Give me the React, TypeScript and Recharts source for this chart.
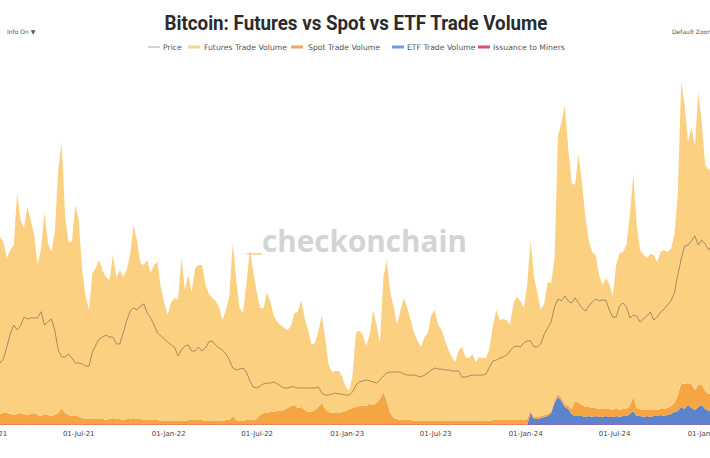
import { ComposedChart, Area, Line, XAxis, YAxis } from 'recharts';

// weekly samples, first one is 21-Jan-21
const START = Date.UTC(2021, 0, 21);
const WEEK = 7 * 24 * 3600 * 1000;
const N_WEEKS = 209;

// trade volume, $B per day
const futuresVolume = [
  88.5, 85.5, 77.5, 82, 85, 110.5, 96.5, 93, 104, 97,
  89, 75, 84, 101, 86, 82, 91, 121.5, 133, 99,
  86.5, 87, 105, 98.5, 74, 61.5, 54.5, 73, 75.5, 79.5,
  74, 71.5, 69.5, 81.5, 70.5, 74.5, 71.5, 74.5, 82, 96.5,
  89.5, 78, 77.5, 80, 73.5, 77.5, 79, 66.5, 59, 53,
  59.5, 61.5, 60.5, 81.5, 65.5, 72.5, 64, 76, 77.5, 77.5,
  68.5, 63.5, 61.5, 60, 57, 50.5, 55, 62, 86.5, 70,
  56.5, 54, 68.5, 85, 74, 63.5, 53.5, 52.5, 60.5, 55,
  48, 44.5, 43, 41, 39, 40, 46, 48, 53.5, 46,
  41, 33.5, 33.5, 37.5, 44, 35.5, 23.5, 20.5, 21, 21,
  17.5, 12, 9, 16.5, 37.5, 37.5, 35.5, 30, 34.5, 47.5,
  39, 28, 57.5, 70.5, 60.5, 55.5, 47, 55, 61, 56,
  50, 44, 40, 37, 42, 44, 53, 55.5, 48, 45.5,
  40.5, 35.5, 32, 29.5, 35.5, 37, 32, 31.5, 33.5, 29.5,
  32, 31.5, 31.5, 36.5, 47.5, 55, 50, 50.5, 50, 47.5,
  58.5, 61.5, 59.5, 56, 67, 85.5, 70, 62, 53, 56,
  66, 64, 71, 129, 137.5, 149.5, 129, 113, 108, 124.5,
  111.5, 95, 83.5, 78, 76.5, 67, 62, 65.5, 62.5, 57,
  71.5, 78.5, 78.5, 82, 95.5, 111, 91.5, 79.5, 77.5, 76,
  78, 77, 74, 78.5, 79.5, 78, 78.5, 84, 100.5, 150.5,
  139.5, 120.5, 128.5, 122, 146.5, 131.5, 113, 112, 114,
];

const spotVolume = [
  5.5, 6, 6, 5.5, 5, 5.5, 6, 5.5, 5, 5.5,
  6, 5, 4.5, 5.5, 5, 4.5, 5, 6, 8.5, 6,
  5, 4.5, 5, 4, 3.5, 3, 3, 3, 3, 3,
  3, 2.5, 3, 3.5, 3, 3, 2.5, 3, 3, 3.5,
  3, 3, 2.5, 2.5, 2.5, 2.5, 2.5, 2, 2, 2,
  2, 2, 2, 2, 2, 2.5, 2.5, 2.5, 2.5, 2.5,
  2, 2, 2, 2, 2, 2, 2.5, 2.5, 4.5, 2.5,
  2, 2, 2.5, 2.5, 2.5, 3, 5, 6, 6, 6.5,
  6.5, 7, 7, 7.5, 8.5, 9.5, 10, 8.5, 9, 7.5,
  6.5, 6.5, 7.5, 9, 11, 8, 6.5, 6, 6, 6,
  6.5, 7, 8, 8.5, 9, 9.5, 9.5, 9.5, 10.5, 10,
  11, 13, 16.5, 12, 6, 3.5, 3, 2.5, 2.5, 2.5,
  2.5, 2, 2, 2, 2, 2, 2, 2, 2, 2,
  2, 2, 2, 2, 2, 2, 2, 2, 2, 2,
  2, 2, 2, 2, 2.5, 2.5, 2.5, 2.5, 2.5, 2.5,
  2.5, 2.5, 2.5, 2.5, 3, 1, 1, 1, 1, 1,
  1, 1, 1.5, 1.5, 1.5, 1.5, 1.5, 2.5, 7.5, 6.5,
  5.5, 5, 4.5, 4.5, 4, 4, 4, 3.5, 4, 3.5,
  4, 3.5, 3.5, 3.5, 4, 7, 4, 3.5, 3.5, 3,
  3.5, 3.5, 3, 3, 3.5, 3.5, 4, 4.5, 7.5, 12,
  12.5, 11, 12, 10, 11, 10, 9, 8.5, 8.5,
];

// spot ETFs only trade from 11-Jan-24
const ETF_START = '2024-01-11';
const etfVolume = [
  6, 3, 3, 3.5, 4, 4.5, 6, 11, 14, 12,
  9, 8, 5.5, 4.5, 4.5, 4.5, 4, 4.5, 4, 4.5,
  4, 4, 4.5, 4, 4, 4.5, 4, 4.5, 4.5, 5.5,
  7, 4.5, 4.5, 4, 4.5, 4, 4.5, 4.5, 5, 4.5,
  5, 5.5, 6.5, 7, 9, 8, 10, 8.5, 7.5, 9,
  10, 8, 7, 7.5,
];

// BTC price, USD
const priceUsd = [
  35000, 37300, 44100, 51400, 56500, 53700, 55900, 61000, 59900, 60500,
  60500, 60500, 64000, 56500, 58200, 59900, 53700, 42400, 38400, 38400,
  40100, 37900, 35000, 35000, 34500, 33300, 33300, 41200, 45200, 48600,
  49700, 50800, 49700, 49700, 45800, 45800, 52000, 58800, 64400, 66100,
  65000, 67200, 68400, 63300, 60500, 56500, 52000, 50300, 48600, 46900,
  45200, 44100, 39000, 42400, 44600, 45200, 41800, 41800, 44100, 41800,
  43500, 46900, 47500, 45200, 43500, 42400, 40100, 36700, 32200, 31100,
  31600, 32200, 29900, 24900, 21500, 20900, 22000, 23200, 23700, 23700,
  24300, 23200, 22000, 20900, 20900, 21500, 21500, 20900, 20900, 20900,
  20900, 20900, 20900, 21500, 18100, 16900, 16900, 17500, 18100, 17500,
  17500, 16900, 16900, 18600, 22600, 24300, 24900, 25400, 24900, 24300,
  23700, 25400, 27700, 29400, 29900, 29900, 29900, 29900, 28800, 28200,
  28200, 28200, 27700, 27100, 28200, 29400, 31100, 32200, 31600, 31600,
  31100, 31100, 30500, 30500, 30500, 27100, 27100, 27700, 28200, 28200,
  28200, 28200, 28800, 32800, 36200, 36700, 37900, 38400, 39500, 41800,
  44100, 44600, 44100, 46300, 47500, 47500, 44100, 44100, 45800, 51400,
  54800, 58200, 66700, 71200, 70100, 72900, 70100, 68900, 71800, 68900,
  66100, 64400, 67200, 69500, 71200, 70100, 70600, 70600, 65000, 61000,
  61000, 67200, 68900, 66700, 60500, 62100, 61600, 58200, 59900, 61600,
  63800, 59300, 61000, 63800, 65500, 67800, 70100, 74600, 84700, 93800,
  101100, 101700, 104000, 106800, 101700, 104500, 102300, 98900, 101700,
];

// miner issuance, $B per day (quarterly)
const issuanceDates = [
  '2021-01-21', '2021-04-01', '2021-07-01', '2021-10-01', '2022-01-01',
  '2022-04-01', '2022-07-01', '2022-10-01', '2023-01-01', '2023-04-01',
  '2023-07-01', '2023-10-01', '2024-01-01', '2024-04-01', '2024-07-01',
  '2024-10-01', '2025-01-16',
];
const issuanceVolume = [
  0.03, 0.055, 0.03, 0.045, 0.042, 0.041, 0.019, 0.018, 0.015, 0.025,
  0.027, 0.024, 0.04, 0.061, 0.026, 0.027, 0.045,
];

const tickDates = [
  '2021-01-01', '2021-07-01', '2022-01-01', '2022-07-01', '2023-01-01',
  '2023-07-01', '2024-01-01', '2024-07-01', '2025-01-01',
];

const MONTHS = ['Jan', 'Feb', 'Mar', 'Apr', 'May', 'Jun', 'Jul', 'Aug', 'Sep', 'Oct', 'Nov', 'Dec'];

function fmtDate(v: number) {
  const d = new Date(v);
  const dd = String(d.getUTCDate()).padStart(2, '0');
  const yy = String(d.getUTCFullYear()).slice(2);
  return `${dd}-${MONTHS[d.getUTCMonth()]}-${yy}`;
}

const etfStart = Date.parse(ETF_START);
const rows = Array.from({ length: N_WEEKS }, (_, i) => {
  const t = START + i * WEEK;
  const k = Math.round((t - etfStart) / WEEK);
  return {
    t,
    futures: futuresVolume[i],
    spot: spotVolume[i],
    etf: k >= 0 ? etfVolume[k] : 0,
    price: priceUsd[i],
  };
});

const issuanceRows = issuanceDates.map((d, i) => ({ t: Date.parse(d), issuance: issuanceVolume[i] }));
const tickValues = tickDates.map(d => Date.parse(d));

const COLORS = {
  futures: '#fcd081',
  spot: '#f5a542',
  etf: '#5b84cc',
  price: '#8d7b58',
  issuance: '#e0457b',
};

const legendItems = [
  { name: 'Price', color: '#aaaaaa', width: 1, sx: 148, tx: 163 },
  { name: 'Futures Trade Volume', color: '#f8d58e', width: 3, sx: 188, tx: 204 },
  { name: 'Spot Trade Volume', color: '#eea75c', width: 3, sx: 291, tx: 308 },
  { name: 'ETF Trade Volume', color: '#6d9de0', width: 3, sx: 392, tx: 407 },
  { name: 'Issuance to Miners', color: '#e04a7c', width: 3, sx: 478, tx: 493 },
];

export default function App() {
  return (
    <div style={{
      position: 'fixed', left: 0, top: 0, width: 710, height: 458,
      overflow: 'hidden', background: '#fff',
    }}>
      <div style={{ position: 'absolute', left: -40, top: 0 }}>
        <ComposedChart
          width={792}
          height={458}
          data={rows}
          margin={{ top: 71, right: 40, bottom: 3, left: 40 }}
        >
          <XAxis
            dataKey="t"
            type="number"
            domain={[START, START + (N_WEEKS - 1) * WEEK]}
            ticks={tickValues}
            interval={0}
            tickFormatter={v => fmtDate(v as number)}
            axisLine={false}
            tickLine={false}
            tickSize={0}
            tickMargin={6}
            height={30}
            tick={{ fontSize: 7, fill: '#444', fontFamily: 'DejaVu Sans' }}
          />
          <YAxis yAxisId="vol" hide domain={[0, 177]} allowDataOverflow />
          <YAxis yAxisId="price" hide domain={[0, 200000]} allowDataOverflow />

          <Area yAxisId="vol" stackId="vol" dataKey="etf" name="ETF Trade Volume"
            stroke="none" fill={COLORS.etf} fillOpacity={1} isAnimationActive={false} />
          <Area yAxisId="vol" stackId="vol" dataKey="spot" name="Spot Trade Volume"
            stroke="none" fill={COLORS.spot} fillOpacity={1} isAnimationActive={false} />
          <Area yAxisId="vol" stackId="vol" dataKey="futures" name="Futures Trade Volume"
            stroke="none" fill={COLORS.futures} fillOpacity={1} isAnimationActive={false} />

          <Line yAxisId="price" dataKey="price" name="Price" stroke={COLORS.price}
            strokeWidth={0.8} dot={false} isAnimationActive={false} />
          <Line yAxisId="vol" data={issuanceRows} dataKey="issuance" name="Issuance to Miners"
            stroke={COLORS.issuance} strokeOpacity={0.6} strokeWidth={1} dot={false}
            isAnimationActive={false} />
        </ComposedChart>
      </div>

      <svg width={710} height={458} style={{ position: 'absolute', left: 0, top: 0, pointerEvents: 'none' }}>
        <text x={356} y={30} textAnchor="middle" fontFamily="Roboto" fontWeight={700}
          fontSize={21} fill="#2b2b2b" textLength={383} lengthAdjust="spacingAndGlyphs">
          Bitcoin: Futures vs Spot vs ETF Trade Volume
        </text>

        <text x={7} y={34} fontFamily="DejaVu Sans" fontSize={6} fill="#555">Info On  ▼</text>
        <text x={672} y={34} fontFamily="DejaVu Sans" fontSize={6} fill="#555">Default Zoom</text>

        {legendItems.map(it => (
          <g key={it.name}>
            <line x1={it.sx} x2={it.sx + 12} y1={47} y2={47} stroke={it.color} strokeWidth={it.width} />
            <text x={it.tx} y={50} fontFamily="DejaVu Sans" fontSize={7.7} fill="#555">{it.name}</text>
          </g>
        ))}

        <line x1={247} x2={262} y1={254} y2={254} stroke="#f5b45a" strokeOpacity={0.7} strokeWidth={1.5} />
        <text x={262} y={252} fontFamily="Open Sans" fontWeight={700} fontSize={30}
          fill="#d4d4d4" textLength={205} lengthAdjust="spacingAndGlyphs">
          checkonchain
        </text>
      </svg>
    </div>
  );
}
